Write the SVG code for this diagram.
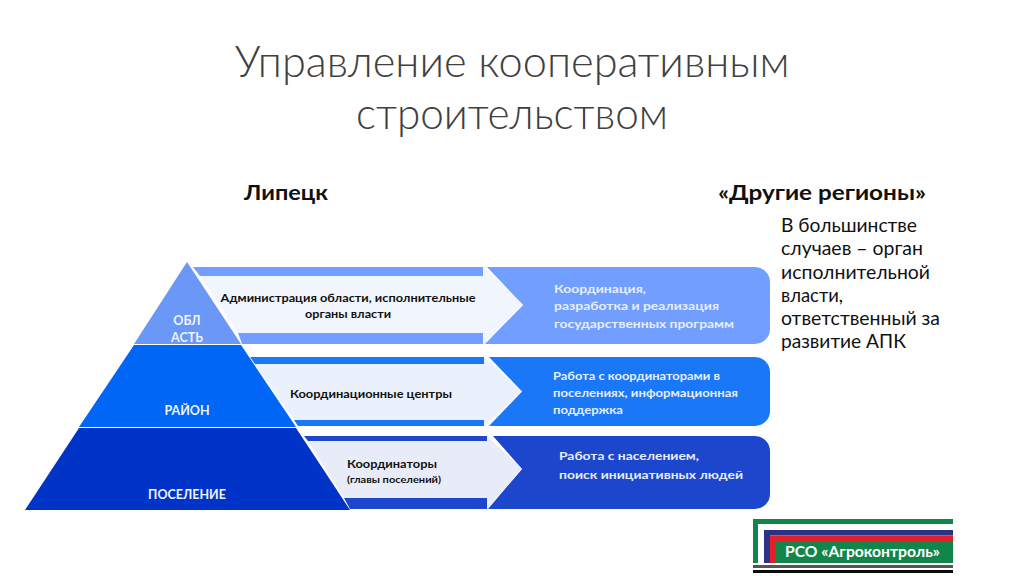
<svg xmlns="http://www.w3.org/2000/svg" width="1024" height="576" viewBox="0 0 1024 576">
<style>
text{font-family:"Lato","Open Sans","Liberation Sans",sans-serif}
.title{font-size:44px;font-weight:300;fill:#404040;text-anchor:middle}
.head{font-size:21px;font-weight:700;fill:#111;text-anchor:middle}
.body{font-size:19px;fill:#111}
.tier{font-size:12.500px;font-weight:700;fill:#eef3ff;text-anchor:middle}
.dark{font-size:11.500px;font-weight:700;fill:#111;text-anchor:middle}
.light{font-size:11.500px;font-weight:700;fill:#e6eeff}
</style>
<rect width="1024" height="576" fill="#fff"/>
<g id="title">
<text class="title" x="512" y="77" textLength="555" lengthAdjust="spacingAndGlyphs">Управление кооперативным</text>
<text class="title" x="512" y="129" textLength="312" lengthAdjust="spacingAndGlyphs">строительством</text>
</g>
<g id="head-lipetsk"><text class="head" x="286" y="200" textLength="84" lengthAdjust="spacingAndGlyphs">Липецк</text></g>
<g id="head-other"><text class="head" x="822" y="200" textLength="208" lengthAdjust="spacingAndGlyphs">«Другие регионы»</text></g>
<g id="note">
<text class="body" x="781" y="232" textLength="136" lengthAdjust="spacingAndGlyphs">В большинстве</text>
<text class="body" x="781" y="255" textLength="142" lengthAdjust="spacingAndGlyphs">случаев – орган</text>
<text class="body" x="781" y="279" textLength="149" lengthAdjust="spacingAndGlyphs">исполнительной</text>
<text class="body" x="781" y="302" textLength="62" lengthAdjust="spacingAndGlyphs">власти,</text>
<text class="body" x="781" y="325" textLength="159" lengthAdjust="spacingAndGlyphs">ответственный за</text>
<text class="body" x="781" y="348" textLength="125" lengthAdjust="spacingAndGlyphs">развитие АПК</text>
</g>
<g id="row-oblast">
<path d="M487 267H755a15 15 0 0 1 15 15V329a15 15 0 0 1-15 15H485L523 305Z" fill="#729fff"/>
<path d="M193 267H483V276H200Z M238 333H483V344H242Z" fill="#729fff"/>
<path d="M200 276H483V267H484L523 305 484 344H483V333H238Z" fill="#f1f5fe"/>
<text class="dark" x="348" y="302" textLength="255" lengthAdjust="spacingAndGlyphs">Администрация области, исполнительные</text>
<text class="dark" x="348" y="318" textLength="86" lengthAdjust="spacingAndGlyphs">органы власти</text>
<text class="light" x="554" y="293" textLength="92" lengthAdjust="spacingAndGlyphs">Координация,</text>
<text class="light" x="554" y="310" textLength="165" lengthAdjust="spacingAndGlyphs">разработка и реализация</text>
<text class="light" x="554" y="328" textLength="180" lengthAdjust="spacingAndGlyphs">государственных программ</text>
</g>
<g id="row-rayon">
<path d="M489 357H755a15 15 0 0 1 15 15V411a15 15 0 0 1-15 15H489L522 391.500Z" fill="#1a78f8"/>
<path d="M250 357H484V364H255Z M294 420H484V426H298Z" fill="#1a78f8"/>
<path d="M255 364H484V357L522 391.500 484 426V420H294Z" fill="#eaf1fd"/>
<text class="dark" x="371" y="398" textLength="162" lengthAdjust="spacingAndGlyphs">Координационные центры</text>
<text class="light" x="553" y="380" textLength="167" lengthAdjust="spacingAndGlyphs">Работа с координаторами в</text>
<text class="light" x="553" y="397" textLength="185" lengthAdjust="spacingAndGlyphs">поселениях, информационная</text>
<text class="light" x="553" y="414" textLength="70" lengthAdjust="spacingAndGlyphs">поддержка</text>
</g>
<g id="row-poselenie">
<path d="M493 436H755a15 15 0 0 1 15 15V494a15 15 0 0 1-15 15H488L522 469Z" fill="#1c47cc"/>
<path d="M304 436H487V441H308Z M344 498H487V509H350Z" fill="#1c47cc"/>
<path d="M308 441H487V436L522 469 487 509V498H344Z" fill="#e8ecf9"/>
<text class="dark" x="347" y="468" style="text-anchor:start" textLength="90" lengthAdjust="spacingAndGlyphs">Координаторы</text>
<text class="dark" x="347" y="483" style="text-anchor:start;font-size:10px" textLength="94" lengthAdjust="spacingAndGlyphs">(главы поселений)</text>
<text class="light" x="559" y="460" textLength="140" lengthAdjust="spacingAndGlyphs">Работа с населением,</text>
<text class="light" x="559" y="479" textLength="184" lengthAdjust="spacingAndGlyphs">поиск инициативных людей</text>
</g>
<g id="pyramid-oblast">
<path d="M187 262L241 344H134Z" fill="#6b98f6"/>
<text class="tier" x="187" y="325">ОБЛ</text>
<text class="tier" x="187" y="342">АСТЬ</text>
</g>
<g id="pyramid-rayon">
<path d="M134 345H241L296 427H79Z" fill="#0066f5"/>
<text class="tier" x="187" y="415">РАЙОН</text>
</g>
<g id="pyramid-poselenie">
<path d="M79 428H296L350 510H25Z" fill="#0033c8"/>
<text class="tier" x="187" y="499">ПОСЕЛЕНИЕ</text>
</g>
<g id="logo">
<path d="M753 519H953V524H758V563H753Z" fill="#12854a"/>
<path d="M764 530H953V535.500H770V563H764Z" fill="#2c3286"/>
<path d="M770 535.500H953V541H775V563H770Z" fill="#e01f2a"/>
<rect x="775" y="541" width="178" height="22" fill="#12854a"/>
<text x="785" y="557" font-size="16" font-weight="700" fill="#fff" textLength="155" lengthAdjust="spacingAndGlyphs">РСО «Агроконтроль»</text>
<rect x="753" y="565" width="200" height="3" fill="#555"/>
<rect x="753" y="570" width="200" height="3" fill="#0a0a0a"/>
</g>
</svg>
